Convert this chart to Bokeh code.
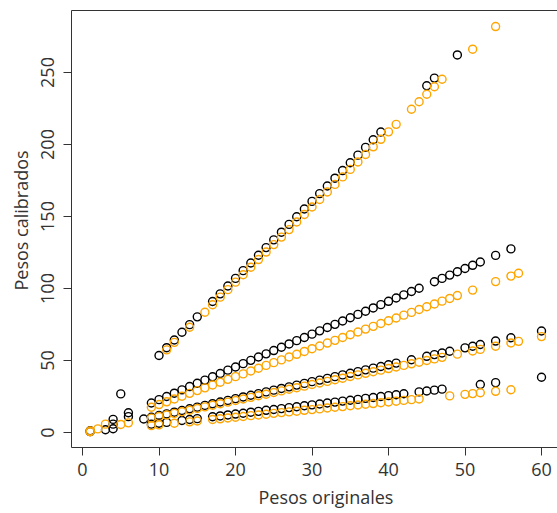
from bokeh.plotting import figure
from bokeh.models import FixedTicker, LinearAxis, Title
from bokeh.embed import file_html
from bokeh.resources import INLINE

# ---- data ----
# group A
a_blk_x = [5, 10, 11, 12, 13, 14, 15, 17, 18, 19, 20, 21, 22, 23, 24, 25, 26, 27, 28, 29, 30,
           31, 32, 33, 34, 35, 36, 37, 38, 39, 45, 46, 49]
a_blk_y = [26.8, 53.5, 58.9, 64.2, 69.6, 74.9, 80.3, 91.0, 96.3, 101.7, 107.0, 112.4, 117.7, 123.1,
           128.4, 133.8, 139.1, 144.5, 149.8, 155.2, 160.5, 165.9, 171.2, 176.6, 181.9, 187.3,
           192.6, 198.0, 203.3, 208.7, 240.8, 246.1, 262.2]
a_org_x = [11, 12, 14, 16, 17, 18, 19, 20, 21, 22, 23, 24, 25, 26, 27, 28, 29, 30, 31, 32, 33,
           34, 35, 36, 37, 38, 39, 40, 41, 43, 44, 45, 46, 47, 51, 54]
a_org_y = [57.4, 62.6, 73.1, 83.5, 88.7, 94.0, 99.2, 104.4, 109.6, 114.8, 120.1, 125.3, 130.5,
           135.7, 140.9, 146.2, 151.4, 156.6, 161.8, 167.0, 172.3, 177.5, 182.7, 187.9, 193.1,
           198.4, 203.6, 208.8, 214.0, 224.5, 229.7, 234.9, 240.1, 245.3, 266.2, 281.9]
# group B
b_blk_x = [4, 6, 9, 10, 11, 12, 13, 14, 15, 16, 17, 18, 19, 20, 21, 22, 23, 24, 25, 26, 27, 28,
           29, 30, 31, 32, 33, 34, 35, 36, 37, 38, 39, 40, 41, 42, 43, 44, 46, 47, 48, 49, 50,
           51, 52, 54, 56]
b_blk_y = [9.1, 13.7, 20.5, 22.8, 25.0, 27.3, 29.6, 31.9, 34.2, 36.4, 38.7, 41.0, 43.3, 45.5,
           47.8, 50.1, 52.4, 54.6, 56.9, 59.2, 61.5, 63.8, 66.0, 68.3, 70.6, 72.9, 75.1, 77.4,
           79.7, 82.0, 84.2, 86.5, 88.8, 91.1, 93.4, 95.6, 97.9, 100.2, 104.7, 107.0, 109.3,
           111.6, 113.9, 116.1, 118.4, 123.0, 127.5]
b_org_x = [3, 9, 10, 11, 12, 13, 14, 15, 16, 17, 18, 19, 20, 21, 22, 23, 24, 25, 26, 27, 28, 29,
           30, 31, 32, 33, 34, 35, 36, 37, 38, 39, 40, 41, 42, 43, 44, 45, 46, 47, 48, 49, 51,
           54, 56, 57]
b_org_y = [5.8, 17.5, 19.4, 21.3, 23.3, 25.2, 27.2, 29.1, 31.0, 33.0, 34.9, 36.9, 38.8, 40.7,
           42.7, 44.6, 46.6, 48.5, 50.4, 52.4, 54.3, 56.3, 58.2, 60.1, 62.1, 64.0, 66.0, 67.9,
           69.8, 71.8, 73.7, 75.7, 77.6, 79.5, 81.5, 83.4, 85.4, 87.3, 89.2, 91.2, 93.1, 95.1,
           98.9, 104.8, 108.6, 110.6]
# group C
c_blk_x = [1, 4, 6, 8, 9, 10, 11, 12, 13, 14, 15, 16, 17, 18, 19, 20, 21, 22, 23, 24, 25, 26,
           27, 28, 29, 30, 31, 32, 33, 34, 35, 36, 37, 38, 39, 40, 41, 43, 45, 46, 47, 48, 50,
           51, 52, 54, 56, 60]
c_blk_y = [1.2, 5.8, 11.0, 9.4, 10.6, 11.8, 12.9, 14.1, 15.3, 16.5, 17.6, 18.8, 20.0, 21.2, 22.3,
           23.5, 24.7, 25.9, 27.0, 28.2, 29.4, 30.6, 31.7, 32.9, 34.1, 35.3, 36.4, 37.6, 38.8,
           40.0, 41.1, 42.3, 43.5, 44.7, 45.8, 47.0, 48.2, 50.5, 52.9, 54.1, 55.2, 56.4, 58.8,
           59.9, 61.1, 63.5, 65.8, 70.5]
c_org_x = [1, 5, 6, 9, 10, 11, 12, 13, 14, 15, 16, 17, 18, 19, 20, 21, 22, 23, 24, 25, 26, 27,
           28, 29, 30, 31, 32, 33, 34, 35, 36, 37, 38, 39, 40, 41, 42, 43, 44, 45, 46, 47, 49,
           51, 52, 54, 56, 57, 60]
c_org_y = [1.1, 5.6, 6.7, 10.0, 11.1, 12.2, 13.3, 14.4, 15.5, 16.7, 17.8, 18.9, 20.0, 21.1, 22.2,
           23.3, 24.4, 25.5, 26.6, 27.8, 28.9, 30.0, 31.1, 32.2, 33.3, 34.4, 35.5, 36.6, 37.7,
           38.9, 40.0, 41.1, 42.2, 43.3, 44.4, 45.5, 46.6, 47.7, 48.8, 50.0, 51.1, 52.2, 54.4,
           56.6, 57.7, 59.9, 62.2, 63.3, 66.6]
# group D
d_blk_x = [1, 3, 4, 9, 10, 11, 13, 14, 15, 17, 18, 19, 20, 21, 22, 23, 24, 25, 26, 27, 28, 29,
           30, 31, 32, 33, 34, 35, 36, 37, 38, 39, 40, 41, 42, 44, 45, 46, 47, 52, 54, 60]
d_blk_y = [0.6, 1.9, 2.6, 5.8, 6.4, 7.0, 8.3, 9.0, 9.6, 10.9, 11.5, 12.2, 12.8, 13.4, 14.1,
           14.7, 15.4, 16.0, 16.6, 17.3, 17.9, 18.6, 19.2, 19.8, 20.5, 21.1, 21.8, 22.4, 23.0,
           23.7, 24.3, 25.0, 25.6, 26.2, 26.9, 28.2, 28.8, 29.4, 30.1, 33.3, 34.6, 38.4]
d_org_x = [1, 2, 9, 10, 12, 14, 15, 17, 18, 19, 20, 21, 22, 23, 24, 25, 26, 27, 28, 29, 30, 31,
           32, 33, 34, 35, 36, 37, 38, 39, 40, 41, 42, 43, 44, 48, 50, 51, 52, 54, 56]
d_org_y = [0.5, 2.5, 4.8, 5.3, 6.4, 7.4, 8.0, 9.0, 9.5, 10.1, 10.6, 11.1, 11.7, 12.2, 12.7,
           13.3, 13.8, 14.3, 14.8, 15.4, 15.9, 16.4, 17.0, 17.5, 18.0, 18.6, 19.1, 19.6, 20.1,
           20.7, 21.2, 21.7, 22.3, 22.8, 23.3, 25.4, 26.5, 27.0, 27.6, 28.6, 29.7]

x_ticks = [0, 10, 20, 30, 40, 50, 60]
y_ticks = [0, 50, 100, 150, 200, 250]
x_title = "Pesos originales"
y_title = "Pesos calibrados"

FONT = "Open Sans"
INK = "#333333"
BLACK = "#000000"
ORANGE = "#FFA500"

X0, X1 = -1.44, 62.09
Y0, Y1 = -10.42, 293.06

p = figure(width=557, height=513, x_range=(X0, X1), y_range=(Y0, Y1),
           output_backend="svg", toolbar_location=None,
           min_border_left=71, min_border_right=0, min_border_top=10, min_border_bottom=66)
p.outline_line_color = None
p.grid.visible = False
p.background_fill_color = "white"
p.border_fill_color = "white"

for ax in (p.xaxis[0], p.yaxis[0]):
    ax.axis_line_color = INK
    ax.axis_line_width = 1
    ax.major_tick_line_color = INK
    ax.major_tick_in = 0
    ax.major_tick_out = 8
    ax.minor_tick_line_color = None
    ax.major_label_text_font = FONT
    ax.major_label_text_font_size = "18px"
    ax.major_label_text_color = INK

p.xaxis.ticker = FixedTicker(ticks=x_ticks)
p.yaxis.ticker = FixedTicker(ticks=y_ticks)
p.yaxis.major_label_orientation = "vertical"
p.xaxis.major_label_standoff = 7
p.yaxis.major_label_standoff = 9

# top edge of the box
top_ax = LinearAxis(ticker=FixedTicker(ticks=[]), axis_line_color=INK, axis_line_width=1,
                    major_tick_in=0, major_tick_out=0, minor_tick_in=0, minor_tick_out=0,
                    major_label_standoff=0, major_label_text_font_size="0px")
p.add_layout(top_ax, "above")

# axis titles
p.add_layout(Title(text=x_title, align="left", offset=187, standoff=8, text_font=FONT,
                   text_font_size="18px", text_font_style="normal", text_color=INK), "below")
p.add_layout(Title(text=y_title, align="left", offset=157, standoff=12, text_font=FONT,
                   text_font_size="18px", text_font_style="normal", text_color=INK), "left")

SIZE = 8
LW = 1.4
for xs, ys in ((a_blk_x, a_blk_y), (b_blk_x, b_blk_y), (c_blk_x, c_blk_y), (d_blk_x, d_blk_y)):
    p.scatter(xs, ys, marker="circle", size=SIZE, fill_color=None, line_color=BLACK,
              line_width=LW)
for xs, ys in ((a_org_x, a_org_y), (b_org_x, b_org_y), (c_org_x, c_org_y), (d_org_x, d_org_y)):
    p.scatter(xs, ys, marker="circle", size=SIZE, fill_color=None, line_color=ORANGE,
              line_width=LW)

open("out.html", "w").write(file_html(p, INLINE))
